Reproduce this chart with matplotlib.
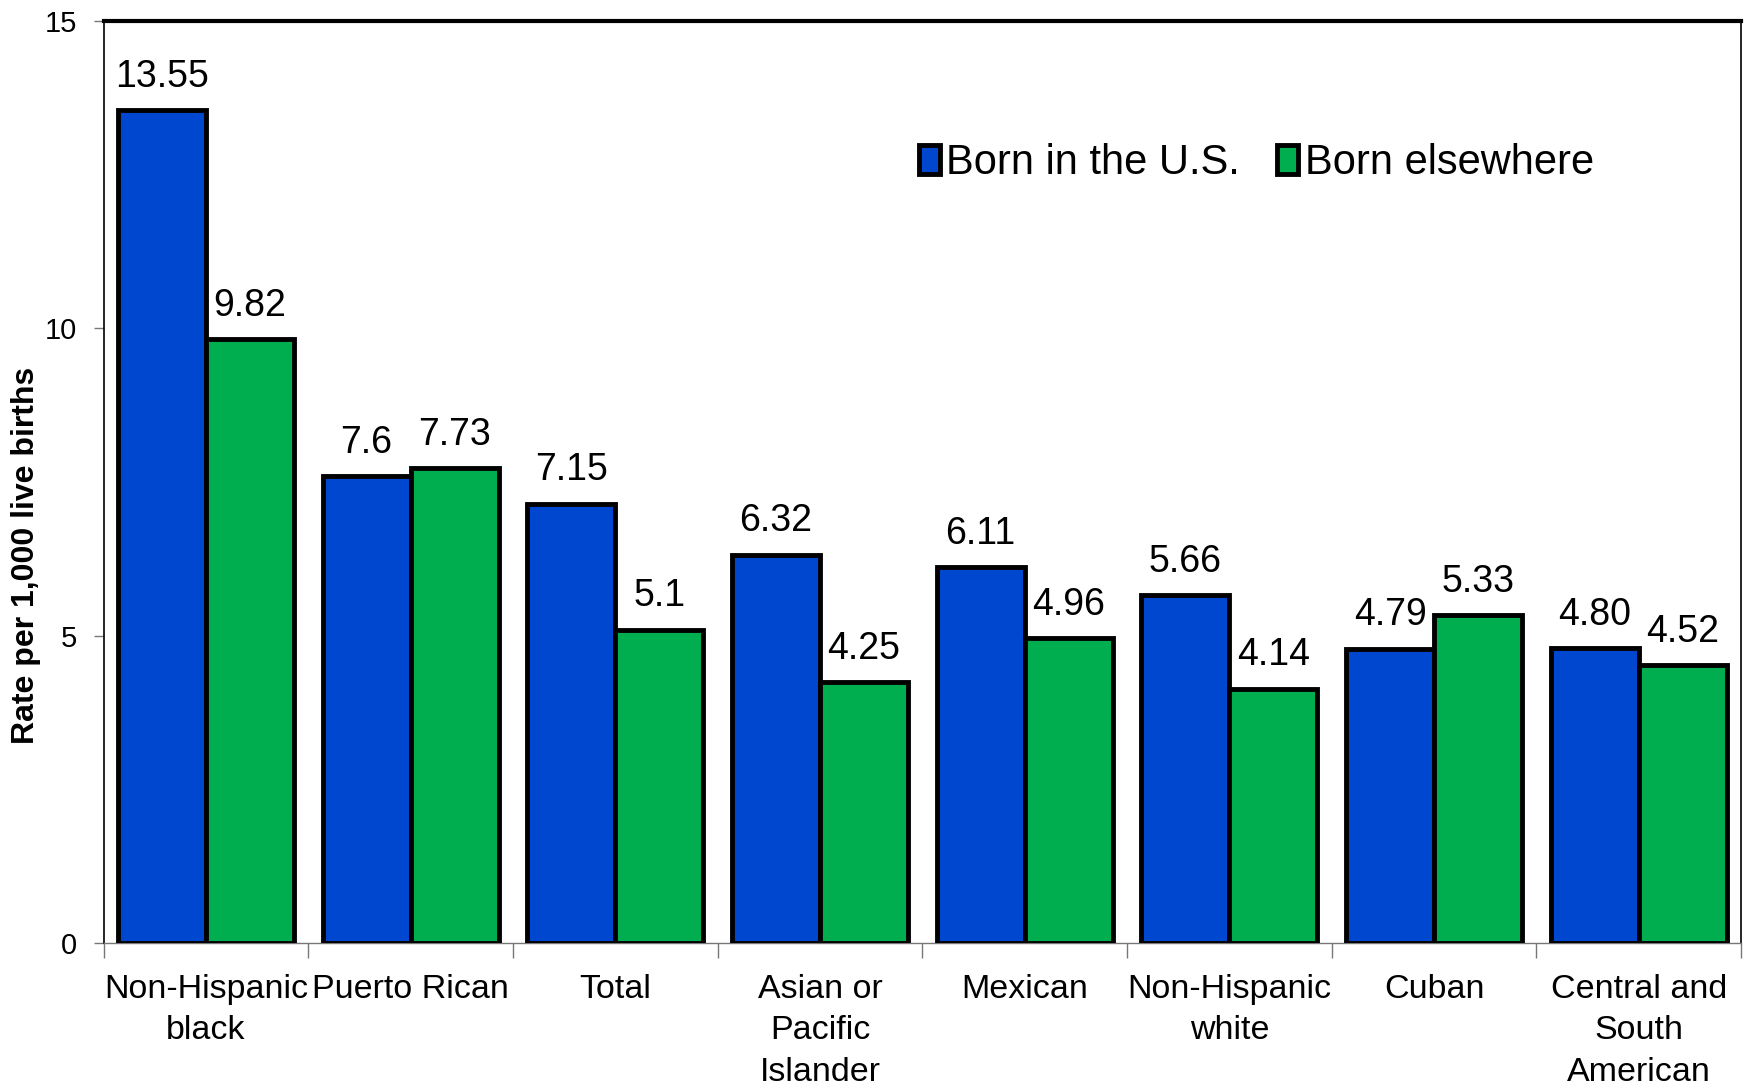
import matplotlib.pyplot as plt
import numpy as np

categories = ["Non-Hispanic\nblack", "Puerto Rican", "Total", "Asian or\nPacific\nIslander",
              "Mexican", "Non-Hispanic\nwhite", "Cuban", "Central and\nSouth\nAmerican"]
born_us = [13.55, 7.6, 7.15, 6.32, 6.11, 5.66, 4.79, 4.80]
born_else = [9.82, 7.73, 5.1, 4.25, 4.96, 4.14, 5.33, 4.52]
labels_us = ["13.55", "7.6", "7.15", "6.32", "6.11", "5.66", "4.79", "4.80"]
labels_else = ["9.82", "7.73", "5.1", "4.25", "4.96", "4.14", "5.33", "4.52"]
yticks = [0, 5, 10, 15]

# no narrow Arial here, so fall back to Liberation Sans a bit smaller
narrow = ["Liberation Sans Narrow", "Liberation Sans", "DejaVu Sans"]
plt.rcParams['font.family'] = ["Liberation Sans", "DejaVu Sans"]

blue = "#0047CF"
green = "#00AE50"

fig = plt.figure(figsize=(17.47, 10.89), dpi=100)
ax = fig.add_axes([0.0593, 0.134, 0.9373, 0.8467])

x = np.arange(len(categories))
w = 0.43
b1 = ax.bar(x - w / 2, born_us, w, color=blue, edgecolor="black", linewidth=3.5,
            label="Born in the U.S.", zorder=3)
b2 = ax.bar(x + w / 2, born_else, w, color=green, edgecolor="black", linewidth=3.5,
            label="Born elsewhere", zorder=3)
for bars, labs in ((b1, labels_us), (b2, labels_else)):
    ax.bar_label(bars, labels=labs, padding=11, fontsize=27, family=narrow)

ax.set_xlim(-0.5, len(categories) - 0.5)
ax.set_ylim(0, 15)
ax.set_yticks(yticks)
ax.tick_params(axis='y', labelsize=21, length=7, pad=12, width=1, color="#777777")

ax.set_xticks(x)
ax.set_xticklabels(categories, fontsize=24.5, family=narrow, linespacing=1.45)
ax.tick_params(axis='x', length=0, pad=22)
ax.set_xticks(np.arange(len(categories) + 1) - 0.5, minor=True)
ax.tick_params(axis='x', which='minor', length=11, width=1, color="#777777")

ax.spines['top'].set_linewidth(3)
ax.spines['left'].set_linewidth(1.2)
ax.spines['right'].set_linewidth(1.2)
ax.spines['bottom'].set_color("#777777")
ax.spines['bottom'].set_linewidth(1)

ax.set_ylabel("Rate per 1,000 live births", fontsize=23, fontweight="bold")
ax.yaxis.set_label_coords(-0.038, 0.42)

ax.legend(loc="center", bbox_to_anchor=(0.704, 0.846), ncol=2, frameon=False,
          fontsize=30, handlelength=0.5, handleheight=0.7, handletextpad=0.15,
          columnspacing=0.9, borderaxespad=0)

fig.savefig("out.png", dpi=100)
